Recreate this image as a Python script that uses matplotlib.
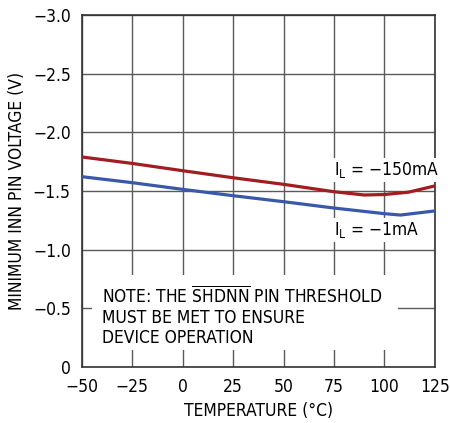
import matplotlib
matplotlib.use("Agg")
import matplotlib.pyplot as plt
from matplotlib.patches import Rectangle

plt.rcParams['font.family'] = ['DejaVu Sans']
plt.rcParams['font.stretch'] = 'condensed'
plt.rcParams['mathtext.fontset'] = 'custom'
plt.rcParams['mathtext.rm'] = 'DejaVu Sans:stretch=condensed'

temp = [-50, -25, 0, 25, 50, 75, 90, 100, 112, 125]
v_150mA = [-1.79, -1.735, -1.673, -1.613, -1.557, -1.494, -1.466, -1.470, -1.49, -1.543]
temp_1mA = [-50, -25, 0, 25, 50, 75, 100, 108, 125]
v_1mA = [-1.622, -1.571, -1.514, -1.460, -1.409, -1.355, -1.307, -1.295, -1.330]

xticks = [-50, -25, 0, 25, 50, 75, 100, 125]
xticklabels = ['\u221250', '\u221225', '0', '25', '50', '75', '100', '125']
yticks = [0, -0.5, -1.0, -1.5, -2.0, -2.5, -3.0]
yticklabels = ['0', '\u22120.5', '\u22121.0', '\u22121.5', '\u22122.0', '\u22122.5', '\u22123.0']

fig = plt.figure(figsize=(4.5, 4.23), dpi=100)
ax = fig.add_axes([0.182, 0.1324, 0.784, 0.8321])

fs = 12.5
ax.plot(temp, v_150mA, color='#a11d21', lw=2.3, zorder=3)
ax.plot(temp_1mA, v_1mA, color='#3a58aa', lw=2.3, zorder=3)

ax.set_xlim(-50, 125)
ax.set_ylim(0, -3.0)
ax.set_xticks(xticks)
ax.set_xticklabels(xticklabels, fontsize=fs)
ax.set_yticks(yticks)
ax.set_yticklabels(yticklabels, fontsize=fs)
ax.tick_params(axis='x', length=0, pad=8)
ax.tick_params(axis='y', length=0, pad=8)
ax.grid(True, color='#5a5a5a', lw=1.0, zorder=1)
for s in ax.spines.values():
    s.set_color('#333333')
    s.set_linewidth(1.2)

ax.set_xlabel('TEMPERATURE (°C)', fontsize=fs, labelpad=4)
ax.set_ylabel('MINIMUM INN PIN VOLTAGE (V)', fontsize=fs, labelpad=5)

ax.add_patch(Rectangle((-45, -0.145), 151.7, -0.64, facecolor='white', edgecolor='none', zorder=2))
ax.text(-40, -0.205, 'NOTE: THE $\\overline{\\mathrm{SHDNN}}$ PIN THRESHOLD\nMUST BE MET TO ENSURE\nDEVICE OPERATION',
        fontsize=fs, va='baseline', ha='left', linespacing=1.15, zorder=4)
bb = dict(facecolor='white', edgecolor='none', pad=1.5)
ax.text(75, -1.68, 'I$_\\mathrm{L}$ = \u2212150mA', fontsize=fs, ha='left', va='center', zorder=4, bbox=bb)
ax.text(75, -1.17, 'I$_\\mathrm{L}$ = \u22121mA', fontsize=fs, ha='left', va='center', zorder=4, bbox=bb)

fig.savefig('out.png', dpi=100)
